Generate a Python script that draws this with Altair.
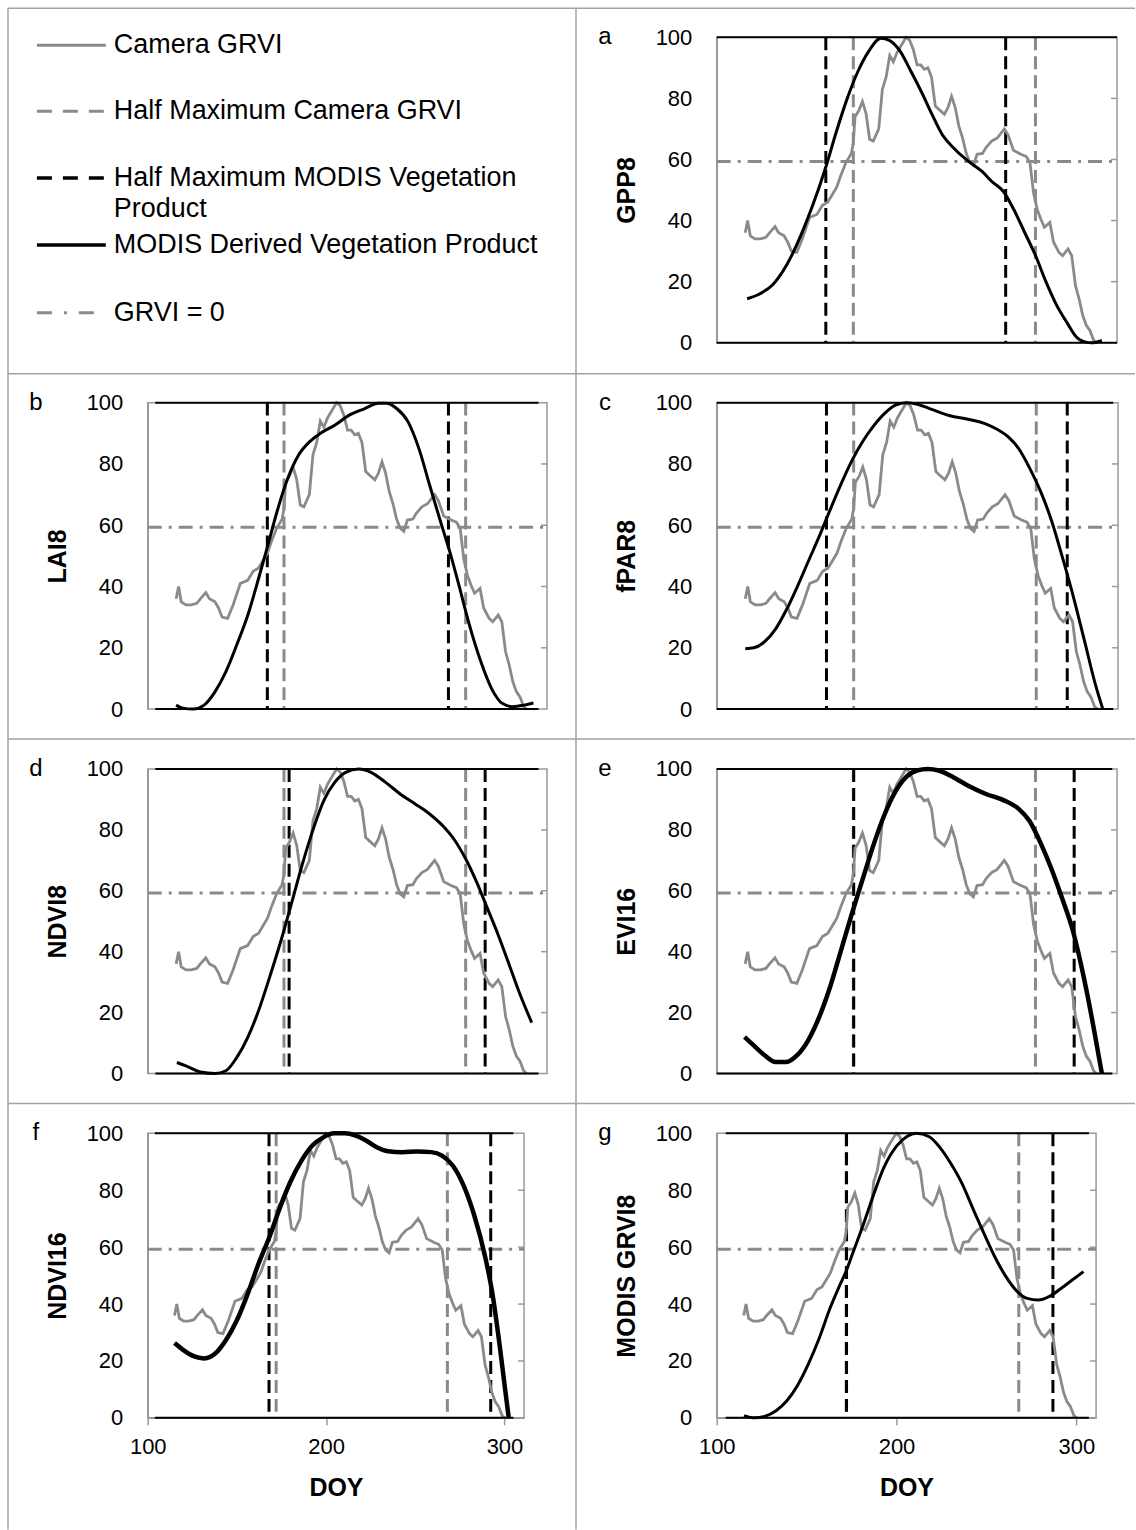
import altair as alt
import pandas as pd

# ---------------- data ----------------
camera_doy = [115.0, 116.3, 117.7, 120.2, 123.0, 125.9, 127.8, 130.7, 132.6, 135.5, 137.4, 139.3,
              142.2, 145.1, 148.9, 152.8, 155.7, 158.5, 161.4, 163.3, 165.3, 168.1, 171.0, 172.0,
              172.9, 174.9, 176.8, 178.7, 180.6, 182.5, 185.4, 187.3, 189.3, 191.2, 193.1, 195.0,
              196.9, 199.8, 201.7, 203.6, 205.6, 207.5, 209.4, 211.3, 213.2, 215.2, 217.1, 220.0,
              221.9, 223.8, 225.7, 227.6, 229.6, 231.5, 233.4, 235.3, 237.2, 240.1, 242.0, 244.9,
              247.8, 251.6, 253.6, 256.4, 260.3, 263.1, 265.1, 267.0, 268.9, 270.8, 272.7, 275.6,
              277.5, 280.4, 282.3, 285.2, 287.1, 289.1, 291.0, 292.9, 294.8, 296.7, 298.7, 300.2]
camera_val = [36, 40, 35, 34, 34, 34.5, 36, 38, 36, 35, 33, 30,
              29.6, 34, 41, 42, 45, 46, 49, 51, 54.6, 59, 62, 65.5,
              74, 76, 79, 75, 66.6, 66, 70, 83, 87, 94, 92, 95,
              97, 100, 99, 96, 91, 91, 89.5, 90, 87, 77.5, 76.4, 74.8,
              77, 80.7, 77, 71, 67, 62, 59, 58, 61.7, 62, 64, 66,
              67, 70, 68, 63, 61.7, 61, 59, 49, 43.7, 40.5, 37.8, 39.4,
              33, 29.6, 28.5, 30.7, 28.5, 18.7, 14.4, 9, 5.7, 4, 0.8, 0]
camera_half_max = [172, 268]
grvi_zero_level = [59.3]

panel_letters = ["a", "b", "c", "d", "e", "f", "g"]
panel_titles = ["GPP8", "LAI8", "fPAR8", "NDVI8", "EVI16", "NDVI16", "MODIS GRVI8"]

gpp8_doy = [116, 122, 129.5, 137, 144.5, 150, 157.6, 163, 168.8, 174.4, 180, 186.5, 191, 196.8, 202,
            208, 213.6, 219, 225, 230.5, 234, 240, 245, 251, 256.6, 262, 267.8, 273.5, 279, 284.7,
            290, 294, 297.8, 303]
gpp8_val = [14.4, 15.8, 19, 25.6, 35.4, 44, 57.7, 69, 80, 88.8, 95.3, 99.7, 99, 95.3, 89.3,
            82, 74.6, 68, 63.7, 60.5, 58.8, 56, 52.8, 49.6, 43.6, 36.5, 28.9, 20, 12.5, 6.5,
            1.6, 0.3, 0, 0.8]
gpp8_half_max = [157.5, 252.3]

lai8_doy = [115, 118, 124, 129.8, 135.6, 141.3, 147, 152.9, 158.6, 163.5, 168.3, 174, 179.8, 185.6,
            191.3, 199, 206.7, 214.4, 222, 226, 231.7, 237.5, 243.3, 249, 254.8, 259.6, 264.4, 270,
            276, 281.7, 287.5, 293, 299, 303.8]
lai8_val = [1.3, 0.4, 0, 1.3, 5.7, 12.2, 20.9, 30.7, 42.7, 53.5, 64.4, 75.3, 83, 87.3,
            90, 92.7, 96, 98, 99.8, 99.8, 98, 93.8, 85, 73, 61, 51.4, 40.5, 27.4,
            15.5, 6.7, 1.8, 0.8, 1.3, 2]
lai8_half_max = [163.2, 258.9]

fpar8_doy = [115, 119.5, 125, 131, 136.7, 142.4, 148, 154, 159.6, 165.4, 171, 176.9, 182.6, 188.3,
             194, 199.8, 205.5, 213, 222.7, 232, 241.7, 247.4, 253, 259, 264.8, 270.5, 276.3, 282,
             287.8, 293.5, 299.2, 303]
fpar8_val = [19.7, 20, 21.9, 26.2, 32.5, 40, 48, 56.5, 65, 73.5, 81, 87.5, 92.5, 96.5,
             99.2, 100, 99.5, 97.8, 95.7, 94.6, 93, 91.3, 89, 84.8, 78.3, 70.7, 61, 49,
             36, 21.9, 7.8, 0]
fpar8_half_max = [157.7, 284.3]

ndvi8_doy = [115.4, 120.2, 127.8, 135.5, 141.3, 147, 152.8, 158.5, 164.3, 170.1, 175.8, 181.6, 187.3,
             193.1, 198.8, 204.6, 211.3, 218, 225.7, 233.4, 241.1, 248.8, 256.4, 262.2, 267.9, 273.7,
             279.5, 285.2, 291, 296.7, 302.9]
ndvi8_val = [3.6, 2.5, 0.5, 0, 0.9, 5.2, 11.8, 20.5, 31.4, 43, 55.5, 68.5, 80, 89.7, 95.6, 98.9,
             100, 98.9, 95.6, 91.8, 88.6, 85.3, 81, 76.6, 70.6, 63, 54.2, 45.5, 35.7, 26, 16.7]
ndvi8_half_max = [174.7, 278.3]

evi16_doy = [114.7, 119.5, 125.2, 131, 136.7, 142.4, 148.2, 154, 159.7, 165.4, 171, 177, 182.6,
             188.3, 194, 199.8, 205.5, 211.3, 217, 224.7, 232.3, 241.9, 251.4, 259, 264.8, 270.5,
             276.3, 282, 287.8, 293.5, 298.3, 303]
evi16_val = [12, 9.2, 6, 3.8, 3.8, 6, 10.9, 18.5, 28.3, 40.2, 52, 64, 75, 84.8, 92.4, 97.3,
             99.5, 100, 99.5, 97.3, 94.6, 91.8, 89.7, 87, 83, 76, 67.4, 57.6, 46.7, 31.5, 16.3, 0]
evi16_half_max = [172.2, 288.4]

ndvi16_doy = [115, 119.6, 125.7, 131.7, 137.8, 143.8, 149.9, 156, 162, 168, 174, 180, 186.3, 192.3,
              198.4, 204.4, 210.5, 216.6, 222.6, 228.7, 234.7, 242.8, 250.9, 259, 265, 271, 277,
              283, 289.3, 293.3, 297.4, 300.4, 302.4]
ndvi16_val = [26.3, 24, 21.7, 20.9, 22.6, 27.3, 34.2, 43.5, 54, 63.2, 73.7, 83, 90.5, 95.7,
              98.6, 100, 100, 99.2, 97.4, 95, 93.7, 93.4, 93.6, 93.4, 92.2, 88.7, 81.8,
              71.3, 56.3, 43.5, 25, 9.9, 0]
ndvi16_half_max = [168, 292.3]

grvi8_doy = [115.2, 121, 127, 133, 139, 145, 151, 157, 163, 168, 172, 176, 181, 187, 193, 200, 206,
             211, 218.2, 224.2, 230.3, 236.4, 242.4, 248.5, 254.5, 260.6, 266.7, 272.7, 278.8,
             284.8, 290.9, 297, 304]
grvi8_val = [0.8, 0, 0.6, 2.5, 6, 11.5, 19, 28, 38.5, 46, 51.6, 58.5, 67, 78, 88, 95.5, 99,
             100, 98.8, 95, 89.3, 82.4, 73.7, 65, 56.8, 49.9, 44.7, 42, 41.4,
             42.6, 45.2, 48.1, 51.4]
grvi8_half_max = [172.2, 287]

legend_labels = ["Camera GRVI", "Half Maximum Camera GRVI",
                 "Half Maximum MODIS Vegetation\nProduct",
                 "MODIS Derived Vegetation Product", "GRVI = 0"]

# ---------------- style ----------------
FONT = "Liberation Sans"
GRAY = "#8a8a8a"
FRAME = "#999999"
XDOM = [100, 311]
Y_TICKS = [0, 20, 40, 60, 80, 100]


def panel(idx, mdoy, mval, hm, width, height, bottom, lw, frame_lo, frame_hi):
    letter = panel_letters[idx]
    title = panel_titles[idx]
    xs = alt.Scale(domain=XDOM, nice=False, zero=False)
    ys = alt.Scale(domain=[0, 100], nice=False, zero=False)
    if bottom:
        xaxis = alt.Axis(title="DOY", values=[100, 200, 300], tickSize=7, tickColor=FRAME,
                         tickWidth=1.5, labelPadding=12, labelFlush=False, domainColor=FRAME,
                         domainWidth=1.5, titleY=70, titleBaseline="middle", grid=False)
    else:
        xaxis = None
    yaxis = alt.Axis(title=title, values=Y_TICKS, ticks=False, labelPadding=25,
                     domainColor=FRAME, domainWidth=1.5, titleX=-90, titleY=height / 2,
                     titleAngle=-90, titleAlign="center", titleBaseline="middle", grid=False)

    def X(f):
        return alt.X(f, type="quantitative", scale=xs, axis=xaxis)

    def Y(f):
        return alt.Y(f, type="quantitative", scale=ys, axis=yaxis)

    cam = pd.DataFrame({"doy": camera_doy, "val": camera_val})
    mod = pd.DataFrame({"doy": mdoy, "val": mval})
    hline = pd.DataFrame({"val": grvi_zero_level})
    cam_hm = pd.DataFrame({"doy": camera_half_max})
    mod_hm = pd.DataFrame({"doy": hm})
    frame = pd.DataFrame({"doy": [frame_lo, frame_lo], "doy2": [frame_hi, frame_hi], "val": [0, 100]})
    rticks = pd.DataFrame({"val": [20, 40, 60, 80]})
    let = pd.DataFrame({"t": [letter]})

    l_h = alt.Chart(hline).mark_rule(color=GRAY, strokeWidth=3, strokeDash=[14, 7, 3, 7]).encode(
        y=Y("val"), x=alt.value(0), x2=alt.value(width))
    l_ch = alt.Chart(cam_hm).mark_rule(color=GRAY, strokeWidth=3, strokeDash=[13, 6]).encode(
        x=X("doy"), y=alt.value(0), y2=alt.value(height))
    l_mh = alt.Chart(mod_hm).mark_rule(color="black", strokeWidth=3, strokeDash=[13, 6]).encode(
        x=X("doy"), y=alt.value(0), y2=alt.value(height))
    l_cam = alt.Chart(cam).mark_line(color=GRAY, strokeWidth=2.8).encode(x=X("doy"), y=Y("val"))
    l_mod = alt.Chart(mod).mark_line(color="black", strokeWidth=lw, interpolate="monotone").encode(
        x=X("doy"), y=Y("val"))
    l_fr = alt.Chart(frame).mark_rule(color="black", strokeWidth=2).encode(
        x=X("doy"), x2=alt.X2("doy2"), y=Y("val"))
    l_rt = alt.Chart(rticks).mark_rule(color=FRAME, strokeWidth=1.5).encode(
        y=Y("val"), x=alt.value(width - 6), x2=alt.value(width))
    l_let = alt.Chart(let).mark_text(font=FONT, fontSize=24, align="center", baseline="middle").encode(
        text="t:N", x=alt.value(-112), y=alt.value(0))
    return alt.layer(l_h, l_ch, l_mh, l_cam, l_mod, l_fr, l_rt, l_let).properties(
        width=width, height=height)


# ---------------- legend cell (also draws the table grid) ----------------
one = pd.DataFrame({"k": [0]})
LW, LH = 400, 306
leg_layers = []
GRID = "#a3a3a3"
# grid borders (relative to this cell's plot area at page x=147, y=35)
for (x1, x2, y1, y2) in [(-140, 989, -29, -29), (-140, 989, 337, 337), (-140, 989, 703, 703),
                         (-140, 989, 1068, 1068), (-140, -140, -29, 1495), (429, 429, -29, 1495)]:
    leg_layers.append(alt.Chart(one).mark_rule(color=GRID, strokeWidth=1.5).encode(
        x=alt.value(x1), x2=alt.value(x2), y=alt.value(y1), y2=alt.value(y2)))

leg_styles = [
    (GRAY, [1, 0], 3, -111, -42, 8),
    (GRAY, [15, 11], 3, -111, -42, 74),
    ("black", [15, 11], 3.5, -111, -42, 141),
    ("black", [1, 0], 3.5, -111, -42, 208),
    (GRAY, [15, 12, 3, 12], 3, -111, -54, 276),
]
leg_text_y = [8, 74, 141, 208, 276]
for i, (col, dash, w, xa, xb, yy) in enumerate(leg_styles):
    leg_layers.append(alt.Chart(one).mark_rule(color=col, strokeWidth=w, strokeDash=dash).encode(
        x=alt.value(xa), x2=alt.value(xb), y=alt.value(yy)))
    lab = pd.DataFrame({"t": [legend_labels[i]]})
    leg_layers.append(alt.Chart(lab).mark_text(font=FONT, fontSize=27, align="left", baseline="middle",
                                               lineBreak="\n", lineHeight=31).encode(
        text="t:N", x=alt.value(-34), y=alt.value(leg_text_y[i])))

legend_cell = alt.layer(*leg_layers).properties(
    width=LW, height=LH, view=alt.ViewBackground(strokeOpacity=0))

pa = panel(0, gpp8_doy, gpp8_val, gpp8_half_max, 401, 306, False, 3, 100, 311)
pb = panel(1, lai8_doy, lai8_val, lai8_half_max, 400, 307, False, 3, 104, 306.5)
pc = panel(2, fpar8_doy, fpar8_val, fpar8_half_max, 402, 307, False, 3, 100, 308.5)
pd_ = panel(3, ndvi8_doy, ndvi8_val, ndvi8_half_max, 400, 305, False, 3, 104, 306.5)
pe = panel(4, evi16_doy, evi16_val, evi16_half_max, 401, 305, False, 4.5, 100, 308.5)
pf = panel(5, ndvi16_doy, ndvi16_val, ndvi16_half_max, 377, 285, True, 4.5, 104, 305)
pg = panel(6, grvi8_doy, grvi8_val, grvi8_half_max, 380, 285, True, 3, 105, 307)

chart = alt.concat(legend_cell, pa, pb, pc, pd_, pe, pf, pg, columns=2,
                   spacing={"row": 60, "column": 170}).properties(
    align="each", bounds="flush",
    padding={"left": 7, "top": 6, "right": 0, "bottom": 0},
    background="white",
).configure(font=FONT).configure_view(stroke=FRAME, strokeWidth=1.5).configure_axis(
    labelFont=FONT, titleFont=FONT, labelFontSize=22, titleFontSize=25, titleFontWeight="bold",
    labelColor="black", titleColor="black")

chart.save("out.html", embed_options={"renderer": "svg", "actions": False})
